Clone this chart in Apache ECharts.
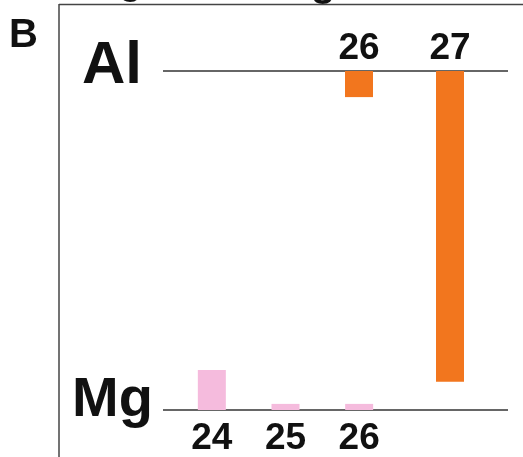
<!DOCTYPE html>
<html>
<head>
<meta charset="utf-8">
<script src="https://cdn.jsdelivr.net/npm/echarts@6/dist/echarts.min.js"></script>
<style>
html,body{margin:0;padding:0;background:#fff;}
#chart{width:523px;height:457px;}
</style>
</head>
<body>
<div id="chart"></div>
<script>
// Data (relative heights; 100 = distance between the Mg and Al levels)
const mgIsotopes = ['24', '25', '26'];
const mgValues = [11.8, 1.8, 1.8];
const alIsotopes = ['26', '27'];
const alValues = [7.7, 91.7];
const levelLabels = ['Al', 'Mg'];
const panelLabel = 'B';

const FONT = '"Liberation Sans", Arial, Helvetica, sans-serif';
const PINK = '#F5BBDD';
const ORANGE = '#F2761E';
const INK = '#111';

const chart = echarts.init(document.getElementById('chart'), null, {renderer: 'canvas'});

const option = {
  backgroundColor: '#fff',
  animation: false,
  grid: [
    {left: 175, width: 221, top: 71, bottom: 47},
    {left: 313.5, width: 182, top: 71, bottom: 47}
  ],
  xAxis: [
    {
      type: 'category', gridIndex: 0, data: mgIsotopes, position: 'bottom',
      axisLine: {show: false}, axisTick: {show: false},
      axisLabel: {fontFamily: FONT, fontSize: 37, fontWeight: 'bold', color: INK, margin: 10}
    },
    {
      type: 'category', gridIndex: 1, data: alIsotopes, position: 'top',
      axisLine: {show: false}, axisTick: {show: false},
      axisLabel: {fontFamily: FONT, fontSize: 37, fontWeight: 'bold', color: INK, margin: 4}
    }
  ],
  yAxis: [
    {type: 'value', gridIndex: 0, min: 0, max: 100, show: false},
    {type: 'value', gridIndex: 1, min: 0, max: 100, inverse: true, show: false}
  ],
  series: [
    {
      name: 'Mg', type: 'bar', xAxisIndex: 0, yAxisIndex: 0,
      data: mgValues, barWidth: 28, itemStyle: {color: PINK}
    },
    {
      name: 'Al', type: 'bar', xAxisIndex: 1, yAxisIndex: 1,
      data: alValues, barWidth: 28, itemStyle: {color: ORANGE}
    }
  ],
  graphic: [
    // cropped title descenders at the very top
    {type: 'text', left: 119, top: -35.5, z: 1,
     style: {text: 'g', font: 'bold 38px ' + FONT, fill: INK}},
    {type: 'text', left: 311, top: -35.5, z: 1,
     style: {text: 'g', font: 'bold 40px ' + FONT, fill: INK}},
    // panel frame
    {type: 'line', z: 10, shape: {x1: 59, y1: 4.5, x2: 523, y2: 4.5},
     style: {stroke: '#444', lineWidth: 1.5}, silent: true},
    {type: 'line', z: 10, shape: {x1: 59, y1: 4, x2: 59, y2: 457},
     style: {stroke: '#444', lineWidth: 1.5}, silent: true},
    // level lines
    {type: 'line', shape: {x1: 163, y1: 71, x2: 508, y2: 71},
     style: {stroke: '#333', lineWidth: 1.5}, silent: true},
    {type: 'line', shape: {x1: 163, y1: 410, x2: 508, y2: 410},
     style: {stroke: '#333', lineWidth: 1.5}, silent: true},
    // level names
    {type: 'text', left: 82, top: 36,
     style: {text: levelLabels[0], font: 'bold 60px ' + FONT, fill: INK}},
    {type: 'text', left: 72, top: 373,
     style: {text: levelLabels[1], font: 'bold 56px ' + FONT, fill: INK}},
    // panel letter
    {type: 'text', left: 9, top: 16,
     style: {text: panelLabel, font: 'bold 40px ' + FONT, fill: INK}}
  ]
};
chart.setOption(option);
</script>
</body>
</html>
